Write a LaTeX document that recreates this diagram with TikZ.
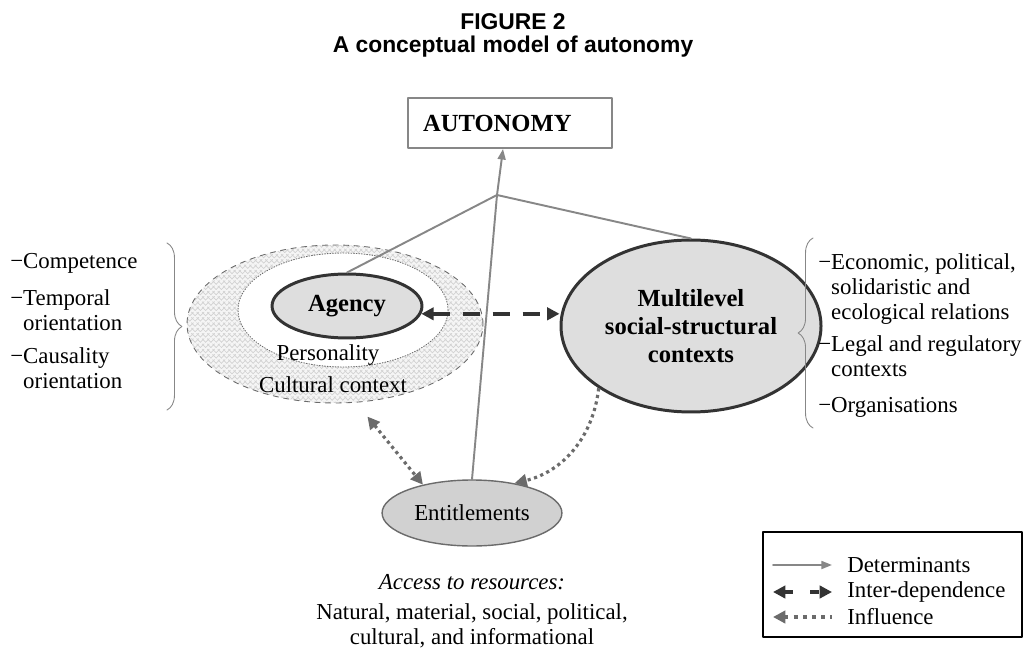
\documentclass[tikz,border=0pt]{standalone}
\usepackage{fontspec}
\setmainfont{Liberation Serif}
\newfontfamily\titlefont{Liberation Sans}
\usepackage{pgf,tikz}
\usetikzlibrary{arrows.meta,shapes.geometric,patterns,decorations.pathreplacing}
\definecolor{zzzzzz}{rgb}{0.2,0.2,0.2}
\definecolor{wvwvwv}{rgb}{0.42,0.42,0.42}
\definecolor{sqsqsq}{rgb}{0.53,0.53,0.53}
\definecolor{dcdcdc}{rgb}{0.87,0.87,0.87}
\definecolor{cdcdcd}{rgb}{0.82,0.82,0.82}

\begin{document}
\begin{tikzpicture}[line cap=round,line join=round,>={Triangle[length=6pt,width=4.5pt]},x=0.02cm,y=-0.02cm,
  txt/.style={font=\fontsize{13}{14.2}\selectfont},
  lst/.style={anchor=west,align=left,inner sep=0pt,font=\fontsize{13}{14.2}\selectfont},
  oval/.style={ellipse,draw=zzzzzz,line width=1.7pt,fill=dcdcdc,align=center,font=\fontsize{14}{15.9}\selectfont\bfseries},
  determ/.style={color=sqsqsq,line width=1.1pt},
  interdep/.style={{Triangle[length=7pt,width=7pt]}-{Triangle[length=7pt,width=7pt]},color=zzzzzz,line width=2.3pt,dash pattern=on 10pt off 7pt,line cap=butt},
  influ/.style={>={Triangle[length=7pt,width=7pt]},color=wvwvwv,line width=1.8pt,dash pattern=on 1.8pt off 2pt,line cap=butt},
  curly/.style={decorate,decoration={brace,amplitude=8.5pt},color=sqsqsq,line width=0.5pt}]
\useasboundingbox (0,0) rectangle (1027,648);
% title
\node[font=\titlefont\bfseries\fontsize{13}{15}\selectfont] (fig) at (513,22) {FIGURE 2};
\node[font=\titlefont\bfseries\fontsize{13}{15}\selectfont] (caption) at (513,47) {A conceptual model of autonomy};
\node[draw=sqsqsq,line width=1.1pt,inner xsep=0.3cm,text width=3.48cm,align=left,minimum height=1cm,font=\fontsize{14}{16}\selectfont\bfseries] (autonomy) at (510,123) {AUTONOMY};
% agency side
\node[ellipse,draw=wvwvwv,dashed,line width=0.5pt,pattern=crosshatch,pattern color=gray!35,preaction={fill=gray!8},minimum width=5.92cm,minimum height=3.16cm] (culture) at (335,324) {};
\node[ellipse,draw=wvwvwv,densely dotted,line width=0.5pt,fill=white,minimum width=4.2cm,minimum height=2.28cm] (person) at (343,310) {};
\node[oval,minimum width=3cm,minimum height=1.28cm] (agency) at (347,306) {Agency};
\node[txt] (perstxt) at (328,355) {Personality};
\node[txt] (cultxt) at (333,385) {Cultural context};
\node[oval,minimum width=4.04cm,minimum height=3.44cm] (multi) at (691,326) {Multilevel\\social-structural\\contexts};
\node[ellipse,draw=wvwvwv,line width=0.8pt,fill=cdcdcd,minimum width=3cm,minimum height=1.32cm,txt] (ent) at (472,513) {Entitlements};
\node[txt,font=\fontsize{13}{14.2}\selectfont\itshape] (access) at (472,582) {Access to resources:};
\node[txt,align=center,font=\fontsize{13}{14.2}\selectfont] (kinds) at (472,626) {Natural, material, social, political,\\cultural, and informational};
% lists
\node[lst] (comp) at (10,263) {−Competence};
\node[lst] (temp) at (10,310) {−Temporal\\\phantom{−}orientation};
\node[lst] (caus) at (10,368) {−Causality\\\phantom{−}orientation};
\node[lst] (econ) at (818,289) {−Economic, political,\\\phantom{−}solidaristic and\\\phantom{−}ecological relations};
\node[lst] (legal) at (818,356) {−Legal and regulatory\\\phantom{−}contexts};
\node[lst] (orgs) at (818,407) {−Organisations};
\draw[curly] (167,243) -- (167,410);
\draw[curly] (813,428) -- (813,238);
% connectors
\coordinate (jn) at (497,195);
\draw[determ] (agency.north) -- (jn);
\draw[determ] (multi.north) -- (jn);
\draw[determ] (ent.north) -- (jn);
\draw[determ,->] (jn) -- ([xshift=-0.14cm]autonomy.south);
\draw[interdep] (agency.-6) -- (agency.-6 -| multi.west);
\draw[influ,<->,shorten <=0.36cm] (culture.-75) -- (ent.150);
\draw[influ,->] (multi.214) to[bend left=35] (ent.35);
% legend
\draw[line width=0.6pt] (763,532) rectangle (1022,637);
\coordinate (l1a) at (773,565); \coordinate (l1b) at (832,565);
\coordinate (l2a) at (773,592); \coordinate (l2b) at (832,592);
\coordinate (l3a) at (773,617); \coordinate (l3b) at (832,617);
\draw[determ,->] (l1a) -- (l1b);
\draw[interdep,dash pattern=on 5pt off 9.5pt] (l2a) -- (l2b);
\draw[influ,<-,dash pattern=on 2.2pt off 3pt] (l3a) -- (l3b);
\node[lst] (det) at (847,565) {Determinants};
\node[lst] (inter) at (847,592) {Inter-dependence};
\node[lst] (infl) at (847,617) {Influence};
\end{tikzpicture}
\end{document}
